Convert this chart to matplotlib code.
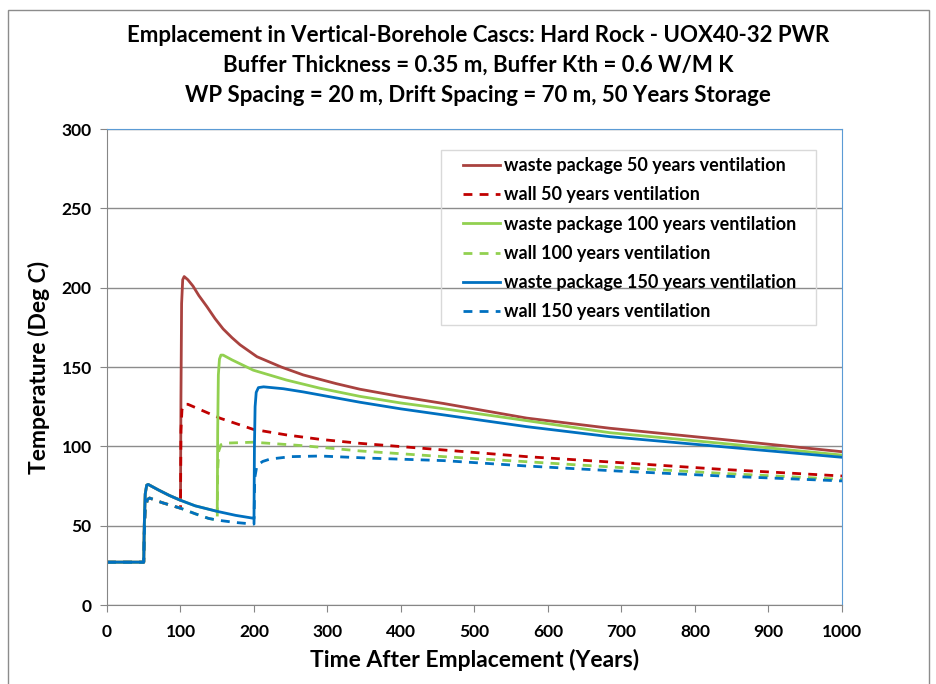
import matplotlib
matplotlib.use("Agg")
import matplotlib.pyplot as plt
from matplotlib.patches import Rectangle

# ---- data ----
wp50_t = [0, 50, 50.7, 52, 54, 56, 60, 70, 85, 100, 100.6, 101.5, 103, 105, 110, 117, 125, 136, 147, 158, 170, 181, 204, 237, 267, 312, 344, 400, 458, 571, 684, 836, 1000]
wp50_v = [27, 27, 50, 70, 75.5, 76, 75, 72.5, 69, 66, 130, 190, 205, 207, 205, 201, 195, 188, 180.5, 174, 168.5, 164, 156.5, 150, 145, 139.5, 136, 131.3, 127, 117.8, 111.4, 104.4, 96.6]

wall50_t = [0, 50, 50.7, 52, 55, 58, 75, 100, 100.6, 102, 105, 110, 154, 199, 244, 290, 344, 458, 571, 692, 836, 1000]
wall50_v = [27, 27, 45, 60, 66.5, 67.4, 64.5, 61, 110, 123, 126.5, 126.5, 117.7, 110.7, 107.2, 104.4, 101.9, 97.7, 93.5, 89.9, 85.5, 81.3]

wp100_t = [0, 50, 50.7, 52, 54, 56, 60, 70, 85, 100, 120, 150, 150.6, 151.5, 153, 155, 158, 170, 199, 244, 290, 344, 400, 458, 571, 684, 836, 1000]
wp100_v = [27, 27, 50, 70, 75.5, 76, 75, 72.5, 69, 66, 62.5, 59, 110, 145, 155, 157.5, 157.5, 154.5, 148, 141.8, 136.6, 131.5, 127.3, 123.7, 116.2, 108.6, 101.9, 94.5]

wall100_t = [0, 50, 50.7, 52, 55, 58, 75, 100, 120, 138, 150, 150.6, 152, 155, 160, 199, 267, 344, 458, 571, 692, 836, 1000]
wall100_v = [27, 27, 45, 60, 66.5, 67.4, 64.5, 61, 57.5, 54.6, 53.5, 85, 97, 101, 102, 102.6, 100.4, 97.1, 93.5, 90.3, 86.8, 83, 79.2]

wp150_t = [0, 50, 50.7, 52, 54, 56, 60, 70, 85, 100, 120, 150, 175, 200, 200.6, 201.5, 203, 206, 213, 240, 267, 312, 344, 400, 458, 571, 684, 836, 1000]
wp150_v = [27, 27, 50, 70, 75.5, 76, 75, 72.5, 69, 66, 62.5, 59, 56.5, 54.6, 100, 125, 134, 137, 137.5, 136.3, 134.3, 130.5, 127.8, 123.6, 119.8, 112.4, 106.1, 99.8, 93.1]

wall150_t = [0, 50, 50.7, 52, 55, 58, 75, 100, 120, 138, 150, 175, 199, 200, 201, 204, 212, 222, 250, 290, 361, 458, 571, 692, 836, 1000]
wall150_v = [27, 27, 45, 60, 66.5, 67.4, 64.5, 61, 57.5, 54.6, 53.5, 52, 51, 51, 80, 88, 90.5, 92, 93.5, 93.9, 92.5, 91, 87.6, 84.5, 81.3, 78.2]

labels = ["waste package 50 years ventilation", "wall 50 years ventilation",
          "waste package 100 years ventilation", "wall 100 years ventilation",
          "waste package 150 years ventilation", "wall 150 years ventilation"]

x_ticks = list(range(0, 1001, 100))
y_ticks = list(range(0, 301, 50))

title_lines = ["Emplacement in Vertical-Borehole Cascs: Hard Rock - UOX40-32 PWR",
               "Buffer Thickness = 0.35 m, Buffer Kth = 0.6 W/M K",
               "WP Spacing = 20 m, Drift Spacing = 70 m, 50 Years Storage"]

# ---- figure ----
plt.rcParams['font.family'] = ['Lato', 'DejaVu Sans']
plt.rcParams['font.weight'] = 'bold'

W, H = 937, 684
fig = plt.figure(figsize=(W / 100, H / 100), dpi=100)
fig.patches.append(Rectangle((8 / W, -0.05), (929 - 8) / W, 1.05 - 10 / H, transform=fig.transFigure,
                             fill=False, edgecolor='#8c8c8c', linewidth=1.0))
ax = fig.add_axes([107 / W, 1 - 605 / H, (842 - 107) / W, (605 - 129) / H])

lw = 2.0
dash = (3.2, 2.6)
ax.plot(wp50_t, wp50_v, color='#A9423F', lw=lw, label=labels[0], solid_joinstyle='round')
ax.plot(wall50_t, wall50_v, color='#C00000', lw=lw, ls=(0, dash), label=labels[1])
ax.plot(wp100_t, wp100_v, color='#92D050', lw=lw, label=labels[2], solid_joinstyle='round')
ax.plot(wall100_t, wall100_v, color='#92D050', lw=lw, ls=(0, dash), label=labels[3])
ax.plot(wp150_t, wp150_v, color='#0070C0', lw=lw, label=labels[4], solid_joinstyle='round')
ax.plot(wall150_t, wall150_v, color='#0070C0', lw=lw, ls=(0, dash), label=labels[5])

ax.set_xlim(0, 1000)
ax.set_ylim(0, 300)
ax.set_xticks(x_ticks)
ax.set_yticks(y_ticks)
ax.tick_params(axis='both', direction='out', length=5, color='#868686', labelsize=12.5)
ax.tick_params(axis='x', pad=9)
ax.tick_params(axis='y', pad=6)
for lab in ax.get_xticklabels() + ax.get_yticklabels():
    lab.set_fontweight('bold')
ax.grid(axis='y', color='#8c8c8c', lw=1.0)
ax.set_axisbelow(True)
for s in ['left', 'bottom']:
    ax.spines[s].set_color('#868686')
for s in ['top', 'right']:
    ax.spines[s].set_color('#5B9BD5')
ax.set_xlabel("Time After Emplacement (Years)", fontsize=16.5, fontweight='bold', labelpad=6)
ax.set_ylabel("Temperature (Deg C)", fontsize=16.5, fontweight='bold', labelpad=8)

for i, line in enumerate(title_lines):
    fig.text(478 / W, 1 - (35 + 30 * i) / H, line, ha='center', va='center', fontsize=16, fontweight='bold')

# legend frame drawn separately (wider horizontal padding than vertical)
fig.patches.append(Rectangle((441 / W, 1 - 325 / H), (816 - 441) / W, (325 - 150) / H,
                             transform=fig.transFigure, fill=False, edgecolor='#d9d9d9', linewidth=1.0))
leg = ax.legend(loc='upper left', bbox_to_anchor=((463 - 107) / 735, 1 - (157 - 129) / 476),
                fontsize=13, handlelength=2.05, labelspacing=0.68, borderpad=0,
                frameon=False, handletextpad=0.2, borderaxespad=0)
for t in leg.get_texts():
    t.set_fontweight('bold')

fig.savefig("out.png", dpi=100)
